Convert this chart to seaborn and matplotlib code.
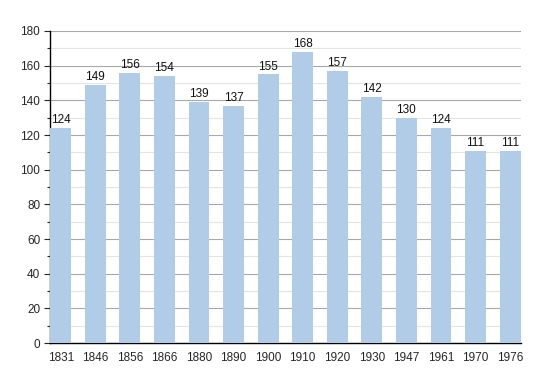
import matplotlib
matplotlib.use("Agg")
import matplotlib.pyplot as plt
import seaborn as sns
import pandas as pd
from matplotlib.ticker import MultipleLocator

years = ["1831", "1846", "1856", "1866", "1880", "1890", "1900",
         "1910", "1920", "1930", "1947", "1961", "1970", "1976"]
population = [124, 149, 156, 154, 139, 137, 155, 168, 157, 142, 130, 124, 111, 111]

df = pd.DataFrame({"year": years, "pop": population})

sns.set_style("white")
plt.rcParams["font.family"] = ["Liberation Sans", "DejaVu Sans"]

fig = plt.figure(figsize=(5.5, 3.73), dpi=100)
ax = fig.add_axes([0.0909, 0.0804, 0.8561, 0.8365])

sns.barplot(data=df, x="year", y="pop", color="#b1cce6", saturation=1,
            width=0.6, linewidth=0, edgecolor="none", ax=ax, zorder=3)

# value labels on top of bars
for i, v in enumerate(population):
    ax.text(i, v + 1, str(v), ha="center", va="bottom", fontsize=8.5, color="#111111")

ax.set_ylim(0, 180)
ax.set_xlim(-0.31, len(years) - 0.69)
ax.yaxis.set_major_locator(MultipleLocator(20))
ax.yaxis.set_minor_locator(MultipleLocator(10))
ax.grid(axis="y", which="major", color="#a8a8a8", linewidth=0.8, zorder=0)
ax.grid(axis="y", which="minor", color="#e4e4e4", linewidth=0.8, zorder=0)
ax.set_axisbelow(True)

ax.set_xlabel("")
ax.set_ylabel("")
for s in ["top", "right"]:
    ax.spines[s].set_visible(False)
ax.spines["left"].set_color("black")
ax.spines["bottom"].set_color("black")
ax.spines["left"].set_linewidth(1)
ax.spines["bottom"].set_linewidth(1)

ax.tick_params(axis="y", which="major", left=True, length=4, width=0.8, labelsize=8.5, pad=3)
ax.tick_params(axis="y", which="minor", left=True, length=2, width=0.8)
ax.tick_params(axis="x", bottom=False, labelsize=8.5, pad=3)

fig.savefig("out.png", dpi=100)
